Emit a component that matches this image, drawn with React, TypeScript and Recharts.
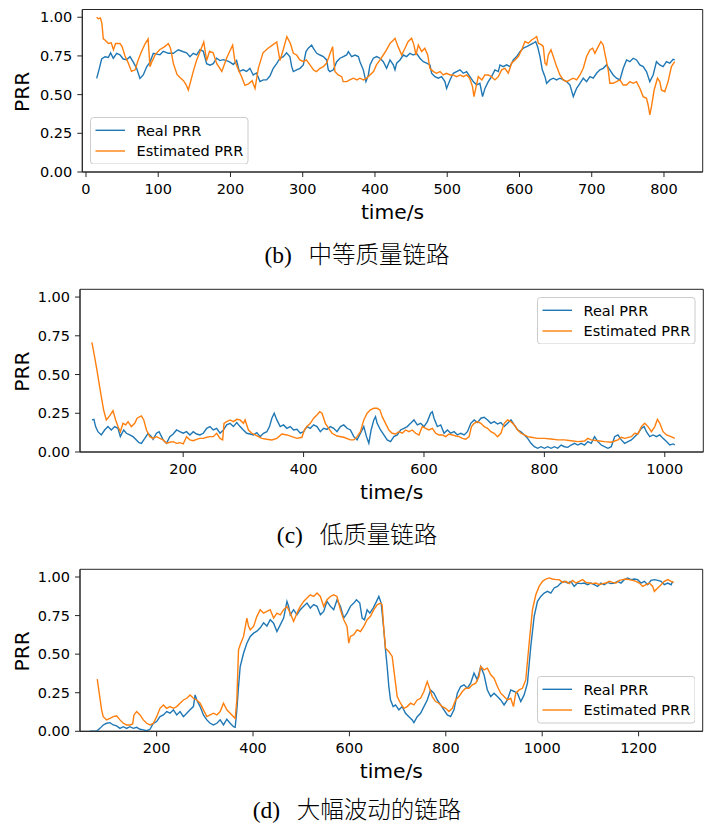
import React from 'react';
import { LineChart, Line, XAxis, YAxis, ReferenceArea, Legend } from 'recharts';

type P = [number, number];

const BLUE = '#1f77b4';
const ORANGE = '#ff7f0e';
const seriesNames = ['Real PRR', 'Estimated PRR'];
const yTicks = [0, 0.25, 0.5, 0.75, 1.0];
const bXTicks = [0, 100, 200, 300, 400, 500, 600, 700, 800];
const cXTicks = [200, 400, 600, 800, 1000];
const dXTicks = [200, 400, 600, 800, 1000, 1200];
const captionLabels = ['(b)', '(c)', '(d)'];
const captionTexts = ['中等质量链路', '低质量链路', '大幅波动的链路'];

// (b) medium quality link
const bReal: P[] = [[14.8,0.605],[18.5,0.67],[21.7,0.73],[26.3,0.745],[30.9,0.74],[34.1,0.77],[37.8,0.735],[42.5,0.767],[47,0.757],[51.6,0.73],[56.3,0.725],[60.9,0.745],[65.5,0.71],[70.1,0.67],[74.7,0.605],[79.3,0.627],[84,0.68],[88.6,0.71],[93.2,0.767],[102.4,0.757],[107,0.78],[114,0.767],[120.9,0.767],[127.8,0.79],[134.7,0.777],[139.3,0.77],[143.9,0.745],[148.5,0.767],[153.1,0.757],[157.8,0.79],[162.4,0.78],[167,0.7],[171.6,0.69],[176.2,0.7],[180.8,0.735],[185.4,0.72],[190,0.726],[194.7,0.72],[199.3,0.71],[203.9,0.695],[208.5,0.72],[212.2,0.65],[217.7,0.66],[222.3,0.65],[226.9,0.67],[231.5,0.627],[236.1,0.64],[240.8,0.584],[245.4,0.595],[250,0.595],[254.6,0.62],[259.2,0.67],[263.9,0.7],[268.5,0.735],[273.1,0.745],[277.7,0.77],[282.3,0.745],[284.7,0.681],[287,0.649],[291.6,0.66],[296.2,0.67],[300.8,0.692],[304.5,0.778],[307.7,0.8],[312.3,0.82],[314.6,0.8],[319.3,0.767],[323.9,0.756],[328.5,0.746],[333.1,0.724],[335.4,0.66],[337.7,0.649],[342.4,0.66],[347,0.713],[351.6,0.735],[356.2,0.746],[360.8,0.756],[363.1,0.778],[367.7,0.746],[372.4,0.756],[377,0.746],[379.2,0.713],[383.8,0.66],[387.5,0.584],[390.8,0.627],[393.1,0.692],[397.7,0.735],[402.3,0.746],[406.9,0.735],[411.5,0.713],[416.1,0.67],[420.8,0.724],[425.4,0.692],[427.7,0.66],[430,0.703],[434.6,0.724],[439.2,0.756],[443.8,0.746],[448.4,0.767],[453,0.756],[457.6,0.767],[462.2,0.735],[466.9,0.713],[471.5,0.703],[476.1,0.692],[478.4,0.638],[483,0.616],[487.6,0.606],[492.2,0.616],[496.8,0.584],[499.1,0.54],[503.8,0.595],[508.4,0.638],[513,0.649],[517.6,0.66],[522.2,0.638],[526.8,0.649],[531.4,0.616],[536,0.584],[540.6,0.563],[545.2,0.573],[548.9,0.487],[552.2,0.54],[556.8,0.584],[561.4,0.616],[566,0.66],[570.7,0.649],[573,0.692],[577.6,0.681],[582.2,0.692],[586.8,0.681],[591.5,0.724],[596.1,0.746],[600.7,0.778],[605.3,0.8],[609.9,0.81],[614.5,0.821],[619.1,0.832],[622.4,0.843],[625.1,0.81],[628.4,0.746],[631.6,0.66],[635.3,0.616],[637.6,0.573],[642.2,0.595],[646.8,0.606],[651.4,0.595],[656,0.606],[660.6,0.595],[665.2,0.584],[669.9,0.562],[674.5,0.487],[679.1,0.541],[683.7,0.573],[688.3,0.606],[692.9,0.584],[697.5,0.616],[702.1,0.606],[706.7,0.638],[711.3,0.66],[715.9,0.67],[720.5,0.692],[725.1,0.66],[729.7,0.627],[734.3,0.606],[739,0.595],[743.6,0.67],[748.2,0.724],[752.8,0.713],[757.4,0.735],[762,0.724],[766.6,0.692],[771.2,0.681],[775.8,0.649],[780.4,0.584],[785,0.627],[789.6,0.713],[794.2,0.692],[798.8,0.681],[803.4,0.713],[808,0.703],[812.7,0.728],[814.9,0.724]];
const bEst: P[] = [[14.8,1.0],[17,0.99],[20,0.995],[22,0.96],[24,0.86],[27,0.85],[31,0.83],[35,0.835],[38,0.79],[41,0.83],[47,0.83],[50,0.81],[54,0.75],[58,0.71],[63,0.65],[68,0.66],[72,0.72],[77,0.78],[82,0.83],[86,0.86],[88.6,0.68],[91,0.71],[96,0.76],[102,0.79],[109,0.81],[114,0.83],[117,0.8],[121,0.7],[126,0.63],[130,0.61],[135,0.59],[139,0.56],[141.6,0.53],[144,0.57],[148.5,0.65],[153,0.72],[158,0.78],[163,0.84],[167,0.72],[171,0.78],[176,0.77],[181,0.7],[188,0.65],[195,0.74],[199,0.78],[203,0.82],[206,0.72],[211,0.66],[215,0.62],[220,0.56],[225,0.57],[230,0.59],[234,0.54],[238.5,0.67],[245,0.77],[252,0.8],[258,0.82],[264,0.84],[268.5,0.72],[273,0.79],[278,0.875],[283,0.83],[287,0.767],[291.6,0.756],[296,0.724],[301,0.713],[305,0.724],[310,0.692],[315,0.659],[319,0.649],[324,0.67],[328.5,0.681],[333,0.703],[338,0.767],[341.4,0.81],[343,0.72],[344.6,0.649],[349,0.627],[354,0.616],[356,0.584],[361,0.584],[365,0.595],[370,0.606],[375,0.595],[379,0.606],[384,0.595],[388.5,0.606],[393,0.627],[398,0.649],[402,0.692],[407,0.724],[411.5,0.756],[416,0.789],[421,0.832],[425,0.849],[427.7,0.864],[432,0.81],[437,0.756],[441.5,0.8],[446,0.843],[450.7,0.864],[454,0.82],[456.7,0.756],[460,0.82],[464.6,0.778],[469,0.8],[473,0.756],[476,0.67],[481,0.649],[485,0.638],[490,0.649],[494.5,0.627],[499,0.638],[504,0.627],[508,0.627],[513,0.616],[518,0.627],[522,0.616],[527,0.627],[531,0.606],[535,0.552],[537,0.487],[540,0.552],[543,0.616],[548,0.595],[552,0.627],[557,0.627],[561,0.616],[566,0.595],[570.7,0.616],[575.3,0.66],[579.9,0.67],[584.5,0.638],[589.1,0.703],[593.8,0.724],[598.4,0.746],[603,0.789],[607.6,0.843],[612.2,0.832],[616.8,0.853],[620.5,0.864],[623.8,0.875],[626.1,0.832],[630.7,0.821],[633,0.81],[635.3,0.703],[637.6,0.692],[639.9,0.756],[643.6,0.79],[646.8,0.746],[651.4,0.681],[656,0.627],[660.6,0.595],[665.2,0.584],[669.9,0.595],[674.5,0.606],[679.1,0.595],[683.7,0.627],[688.3,0.67],[692.9,0.746],[697.5,0.789],[701.2,0.8],[704.4,0.767],[709,0.81],[712.7,0.843],[715.9,0.821],[718.2,0.767],[722.8,0.66],[725.1,0.573],[729.7,0.573],[734.3,0.584],[739,0.595],[743.6,0.562],[748.2,0.562],[752.8,0.584],[757.4,0.573],[762,0.584],[766.6,0.541],[771.2,0.487],[775.8,0.476],[778.1,0.433],[780.4,0.369],[782.7,0.422],[786.4,0.53],[791,0.606],[794.2,0.584],[796.5,0.53],[801.1,0.519],[805.7,0.584],[810.3,0.681],[814.9,0.713]];

// (c) low quality link
const cReal: P[] = [[48.4,0.207],[51.7,0.211],[54.5,0.164],[58.4,0.131],[64,0.11],[69.5,0.142],[75,0.164],[80.6,0.142],[86.2,0.164],[91.7,0.153],[95.6,0.099],[101.2,0.142],[105.6,0.121],[111.2,0.11],[116.7,0.099],[122.3,0.078],[126.7,0.06],[130.6,0.056],[136.2,0.088],[141.7,0.121],[147.3,0.099],[150,0.082],[155.6,0.121],[160,0.131],[166.7,0.078],[172.3,0.056],[177.8,0.099],[183.4,0.116],[189,0.142],[194.5,0.131],[200,0.121],[205.6,0.131],[211.2,0.11],[216.7,0.131],[222.3,0.116],[227.8,0.11],[233.4,0.121],[239,0.153],[244.5,0.164],[250,0.142],[255.6,0.153],[261.2,0.121],[266.7,0.142],[272.3,0.175],[277.8,0.185],[283.4,0.164],[289,0.19],[294.5,0.164],[300,0.142],[305.6,0.121],[311.2,0.116],[316.7,0.11],[322.3,0.125],[327.8,0.099],[333.4,0.121],[339,0.131],[343.4,0.164],[347.3,0.218],[351.2,0.25],[355.6,0.207],[361.2,0.164],[366.7,0.175],[372.3,0.153],[377.8,0.164],[383.4,0.142],[389,0.146],[394.5,0.121],[400,0.131],[405.6,0.164],[411.2,0.153],[416.7,0.175],[422.3,0.164],[427.8,0.131],[433.4,0.153],[439,0.146],[444.5,0.164],[450,0.153],[455.6,0.131],[461.2,0.164],[466.7,0.175],[472.3,0.153],[477.8,0.142],[483.4,0.099],[488.9,0.078],[494.5,0.121],[500,0.164],[504.5,0.099],[508.4,0.056],[512.2,0.142],[516.7,0.207],[519.5,0.228],[522.2,0.185],[527.8,0.142],[533.4,0.11],[538.9,0.078],[544.5,0.067],[550,0.099],[555.6,0.11],[561.1,0.142],[566.7,0.153],[572.2,0.164],[577.8,0.185],[583.4,0.207],[588.9,0.175],[594.5,0.185],[600,0.164],[605.6,0.196],[611.1,0.25],[613.9,0.26],[616.7,0.218],[622.2,0.164],[627.8,0.175],[633.4,0.121],[638.9,0.142],[644.5,0.121],[650,0.131],[655.6,0.11],[661.1,0.121],[666.7,0.11],[672.2,0.131],[677.8,0.185],[683.4,0.207],[688.9,0.19],[694.5,0.218],[700,0.224],[705.6,0.207],[711.1,0.185],[716.7,0.196],[722.2,0.181],[727.8,0.19],[733.4,0.164],[738.9,0.185],[744.5,0.207],[750,0.175],[755.6,0.142],[761.1,0.131],[766.7,0.11],[772.2,0.088],[777.8,0.056],[783.4,0.034],[788.9,0.024],[794.5,0.034],[800,0.024],[805.6,0.034],[811.1,0.024],[816.7,0.034],[822.2,0.024],[827.8,0.045],[833.4,0.034],[838.9,0.03],[844.5,0.045],[850,0.056],[855.6,0.045],[861.1,0.056],[866.7,0.045],[872.2,0.067],[877.8,0.056],[883.4,0.099],[888.9,0.067],[894.5,0.045],[900,0.034],[905.6,0.024],[911.1,0.034],[916.7,0.099],[922.2,0.11],[927.8,0.078],[933.4,0.056],[938.9,0.067],[944.5,0.078],[950,0.099],[955.6,0.121],[961.1,0.153],[965.6,0.164],[969.5,0.131],[975.1,0.099],[980.6,0.11],[986.1,0.099],[991.7,0.11],[997.2,0.088],[1002.8,0.067],[1008.4,0.045],[1013.9,0.052],[1016.7,0.045]];
const cEst: P[] = [[48.4,0.707],[52.8,0.616],[56.7,0.53],[61.2,0.422],[64,0.358],[67.8,0.272],[72.3,0.207],[77.8,0.233],[83.4,0.267],[87.8,0.207],[91.7,0.164],[95.6,0.131],[100,0.185],[104.5,0.175],[108.4,0.196],[113.9,0.164],[119.5,0.185],[123.4,0.218],[130.6,0.233],[134.5,0.207],[139,0.142],[144.5,0.099],[150,0.088],[155.6,0.099],[161.2,0.088],[166.7,0.078],[172.3,0.056],[177.8,0.063],[183.4,0.067],[189,0.056],[194.5,0.06],[200,0.052],[205.6,0.099],[211.2,0.078],[216.7,0.073],[222.3,0.082],[227.8,0.088],[233.4,0.088],[239,0.095],[244.5,0.099],[250,0.099],[255.6,0.121],[261.2,0.088],[265.6,0.078],[267.8,0.185],[272.3,0.196],[277.8,0.207],[283.4,0.196],[289,0.211],[294.5,0.207],[300,0.185],[302.8,0.207],[308.4,0.142],[314,0.121],[319.5,0.11],[325,0.099],[330.6,0.088],[339,0.082],[347.3,0.078],[355.6,0.088],[364,0.116],[372.3,0.11],[380.6,0.099],[389,0.088],[397.3,0.095],[401.2,0.142],[405.6,0.164],[411.2,0.185],[416.7,0.218],[422.3,0.239],[426.7,0.26],[430.6,0.25],[436.2,0.185],[441.7,0.153],[447.3,0.121],[455.6,0.103],[466.7,0.095],[477.8,0.078],[483.4,0.078],[488.9,0.099],[494.5,0.131],[500,0.207],[505.6,0.25],[511.1,0.272],[516.7,0.282],[522.2,0.282],[526.7,0.272],[530.6,0.228],[536.1,0.185],[541.7,0.142],[547.2,0.121],[552.8,0.116],[558.3,0.131],[563.9,0.121],[569.4,0.142],[575,0.131],[580.6,0.142],[586.1,0.121],[591.7,0.11],[597.2,0.164],[602.8,0.153],[608.3,0.142],[613.9,0.153],[619.4,0.121],[625,0.11],[630.6,0.11],[636.1,0.099],[641.7,0.116],[647.2,0.11],[652.8,0.103],[658.3,0.099],[663.9,0.088],[669.4,0.082],[675,0.099],[678.9,0.164],[683.4,0.185],[688.9,0.196],[694.5,0.185],[700,0.164],[705.6,0.153],[711.1,0.131],[716.7,0.121],[722.2,0.099],[727.8,0.121],[733.4,0.185],[738.9,0.207],[744.5,0.196],[750,0.175],[755.6,0.142],[761.1,0.121],[766.7,0.11],[772.2,0.099],[777.8,0.095],[788.9,0.088],[800,0.088],[811.1,0.084],[822.2,0.078],[833.4,0.078],[844.5,0.073],[855.6,0.067],[866.7,0.071],[872.2,0.088],[877.8,0.078],[888.9,0.073],[900,0.067],[911.1,0.063],[922.2,0.078],[927.8,0.095],[933.4,0.088],[944.5,0.099],[950,0.121],[955.6,0.116],[961.1,0.164],[966.7,0.185],[972.2,0.164],[977.8,0.131],[983.4,0.164],[987.8,0.211],[991.7,0.185],[997.2,0.131],[1002.8,0.11],[1008.4,0.103],[1016.7,0.088]];

// (d) strongly fluctuating link
const dReal: P[] = [[61.5,0],[75.4,0],[82.3,0.019],[89.2,0.041],[96.2,0.052],[103.1,0.056],[110,0.041],[117,0.035],[123.9,0.019],[130.8,0.03],[137.7,0.019],[144.7,0.03],[151.6,0.019],[158.5,0.026],[165.5,0.013],[172.4,0.009],[179.3,0.004],[186.3,0.013],[193.2,0.052],[200.1,0.063],[207,0.095],[214,0.106],[220.9,0.128],[227.8,0.117],[234.8,0.139],[241.7,0.106],[248.6,0.128],[255.6,0.095],[262.5,0.117],[269.4,0.139],[276.3,0.16],[279.8,0.236],[283.3,0.203],[290.2,0.16],[297.1,0.106],[304.1,0.074],[311,0.052],[317.9,0.041],[324.9,0.052],[331.8,0.074],[338.7,0.041],[345.6,0.078],[352.6,0.052],[359.5,0.03],[363,0.026],[366.4,0.139],[369.9,0.29],[373.4,0.42],[380.3,0.506],[387.2,0.571],[394.2,0.615],[401.1,0.636],[408,0.649],[415,0.671],[421.9,0.703],[428.8,0.682],[435.7,0.723],[442.7,0.701],[449.6,0.647],[456.5,0.69],[463.5,0.734],[470.4,0.842],[473.8,0.81],[477.3,0.755],[484.2,0.788],[491.2,0.755],[498.1,0.788],[505,0.81],[512,0.831],[518.9,0.799],[525.8,0.821],[532.8,0.81],[539.7,0.755],[546.6,0.777],[553.5,0.842],[560.5,0.81],[567.4,0.788],[574.3,0.853],[581.3,0.81],[588.2,0.734],[595.1,0.766],[602.1,0.81],[609,0.831],[614.6,0.853],[621.5,0.831],[626.4,0.734],[631.2,0.723],[636.8,0.788],[642.3,0.766],[649.2,0.799],[656.2,0.842],[661,0.874],[665.9,0.831],[671.4,0.658],[674.9,0.528],[678.3,0.42],[681.8,0.29],[685.3,0.203],[690.8,0.16],[695.7,0.171],[702.6,0.139],[709.5,0.16],[716.4,0.117],[723.4,0.095],[730.3,0.074],[733.8,0.056],[740.7,0.095],[747.6,0.117],[754.6,0.16],[761.5,0.203],[768.4,0.268],[775.4,0.247],[782.3,0.203],[789.2,0.171],[796.1,0.139],[803.1,0.106],[810,0.095],[816.9,0.139],[823.9,0.247],[830.8,0.29],[837.7,0.301],[844.6,0.279],[851.6,0.312],[858.5,0.377],[865.4,0.333],[872.4,0.42],[879.3,0.366],[886.2,0.268],[893.2,0.225],[900.1,0.247],[907,0.225],[913.9,0.203],[920.9,0.171],[927.8,0.203],[934.7,0.268],[941.7,0.258],[948.6,0.247],[955.5,0.193],[962.5,0.236],[969.4,0.312],[976.3,0.55],[983.3,0.745],[990.2,0.842],[997.1,0.874],[1004.1,0.896],[1011,0.907],[1017.9,0.896],[1024.8,0.929],[1031.8,0.939],[1038.7,0.961],[1045.6,0.972],[1052.6,0.961],[1059.5,0.972],[1066.4,0.939],[1073.3,0.961],[1080.3,0.957],[1087.2,0.961],[1094.1,0.95],[1101.1,0.961],[1108,0.95],[1114.9,0.939],[1121.9,0.961],[1128.8,0.95],[1135.7,0.965],[1142.6,0.957],[1149.6,0.961],[1156.5,0.972],[1163.4,0.961],[1170.4,0.983],[1177.3,0.994],[1184.2,0.983],[1191.2,0.987],[1198.1,0.983],[1205,0.961],[1212,0.972],[1218.9,0.95],[1225.8,0.978],[1232.7,0.983],[1239.7,0.978],[1246.6,0.972],[1253.5,0.95],[1260.5,0.961],[1267.4,0.95],[1270.8,0.972]];
const dEst: P[] = [[76.8,0.338],[80.9,0.247],[85.8,0.139],[89.2,0.095],[96.2,0.074],[103.1,0.084],[110,0.095],[117,0.1],[123.9,0.074],[130.8,0.052],[137.7,0.041],[144.7,0.041],[150.2,0.048],[153,0.106],[158.5,0.128],[165.5,0.106],[172.4,0.074],[179.3,0.052],[186.3,0.041],[193.2,0.052],[200.1,0.095],[207,0.149],[214,0.171],[220.9,0.149],[227.8,0.16],[234.8,0.149],[241.7,0.16],[248.6,0.182],[255.6,0.203],[262.5,0.214],[269.4,0.236],[276.3,0.214],[283.3,0.203],[290.2,0.182],[297.1,0.139],[304.1,0.095],[311,0.106],[317.9,0.117],[324.9,0.106],[331.8,0.128],[338.7,0.182],[345.6,0.139],[352.6,0.117],[359.5,0.095],[363,0.084],[366.4,0.203],[369.9,0.528],[373.4,0.561],[380.3,0.615],[387.2,0.734],[390.7,0.68],[394.2,0.658],[401.1,0.68],[408,0.745],[415,0.788],[421.9,0.766],[428.8,0.777],[435.7,0.788],[442.7,0.734],[449.6,0.766],[456.5,0.755],[463.5,0.788],[470.4,0.81],[477.3,0.766],[484.2,0.712],[491.2,0.766],[498.1,0.81],[505,0.842],[512,0.864],[518.9,0.885],[525.8,0.874],[532.8,0.896],[539.7,0.874],[546.6,0.81],[553.5,0.853],[560.5,0.874],[567.4,0.885],[574.3,0.874],[581.3,0.788],[588.2,0.723],[595.1,0.68],[598.6,0.571],[602.1,0.615],[609,0.626],[615.9,0.658],[622.9,0.647],[629.8,0.68],[636.8,0.723],[643.7,0.745],[650.6,0.788],[657.5,0.82],[664.5,0.831],[667.9,0.82],[671.4,0.658],[674.9,0.539],[681.8,0.517],[688.7,0.485],[692.2,0.398],[699.1,0.225],[706,0.182],[713,0.149],[719.9,0.16],[726.8,0.182],[733.8,0.171],[740.7,0.203],[747.6,0.214],[754.6,0.258],[758,0.29],[761.5,0.322],[765,0.29],[771.9,0.225],[778.8,0.193],[785.7,0.182],[792.7,0.16],[799.6,0.149],[806.5,0.128],[813.5,0.149],[820.4,0.203],[827.3,0.225],[834.3,0.258],[841.2,0.279],[848.1,0.279],[855,0.301],[862,0.312],[868.9,0.355],[872.4,0.42],[879.3,0.398],[886.2,0.409],[893.2,0.366],[900.1,0.344],[907,0.29],[913.9,0.247],[920.9,0.225],[927.8,0.203],[934.7,0.214],[940.3,0.16],[945.1,0.247],[952.1,0.268],[959,0.279],[965.9,0.333],[972.9,0.571],[979.8,0.788],[986.7,0.885],[993.6,0.939],[1000.6,0.972],[1007.5,0.987],[1014.4,0.994],[1021.4,0.987],[1028.3,0.983],[1035.2,0.983],[1042.2,0.965],[1049.1,0.972],[1056,0.957],[1063,0.978],[1069.9,0.961],[1076.8,0.972],[1083.7,0.983],[1090.7,0.965],[1097.6,0.961],[1104.5,0.957],[1111.5,0.961],[1118.4,0.95],[1125.3,0.957],[1132.3,0.961],[1139.2,0.972],[1146.1,0.965],[1153.1,0.961],[1160,0.978],[1166.9,0.983],[1173.8,0.987],[1180.8,0.983],[1187.7,0.978],[1194.6,0.972],[1201.6,0.961],[1208.5,0.939],[1215.4,0.95],[1222.4,0.961],[1229.3,0.939],[1232.7,0.907],[1239.7,0.929],[1246.6,0.95],[1253.5,0.972],[1260.5,0.983],[1267.4,0.972],[1272.9,0.965]];

type Row = { t: number; real?: number; est?: number };
function mergeSeries(real: P[], est: P[]): Row[] {
  const rows: Row[] = [
    ...real.map(([t, v]) => ({ t, real: v })),
    ...est.map(([t, v]) => ({ t, est: v })),
  ];
  rows.sort((a, b) => a.t - b.t);
  return rows;
}

const FONT = "'DejaVu Sans', sans-serif";
const AXIS = '#262626';

type PanelProps = {
  top: number;
  plotTop: number;
  plotBottom: number;
  plotLeft: number;
  plotRight: number;
  xDomain: [number, number];
  xTicks: number[];
  real: P[];
  est: P[];
  legendX: number;
  legendY: number;
  captionDy: number;
};

function LegendBox() {
  return (
    <svg width={158.5} height={47.5} style={{ display: 'block' }}>
      <rect x={0.5} y={0.5} width={157.5} height={46.5} rx={3} ry={3} fill="rgba(255,255,255,0.8)" stroke="#cccccc" strokeWidth={1} />
      {seriesNames.map((name, i) => {
        const y = i === 0 ? 13.3 : 34;
        return (
          <g key={name}>
            <line x1={5.5} x2={35} y1={y} y2={y} stroke={i === 0 ? BLUE : ORANGE} strokeWidth={1.4} />
            <text x={46.5} y={y + 5.2} fontFamily={FONT} fontSize={14.5} fill="#000">{name}</text>
          </g>
        );
      })}
    </svg>
  );
}

function Panel(p: PanelProps) {
  const W = 709;
  const axisH = 30;
  const mTop = p.plotTop - p.top;
  const H = p.plotBottom - p.top + axisH;
  const data = mergeSeries(p.real, p.est);
  return (
    <div style={{ position: 'absolute', left: 0, top: p.top, width: W, height: H }}>
      <LineChart width={W} height={H} data={data} margin={{ top: mTop, right: W - p.plotRight, bottom: 0, left: 0 }}>
        <XAxis
          type="number"
          dataKey="t"
          domain={p.xDomain}
          ticks={p.xTicks}
          interval={0}
          allowDataOverflow
          height={axisH}
          tickSize={5}
          tickMargin={6.5}
          stroke={AXIS}
          tick={{ fontSize: 14.5, fill: '#000', fontFamily: FONT }}
        />
        <YAxis
          type="number"
          domain={[0, 1.05]}
          ticks={yTicks}
          interval={0}
          allowDataOverflow
          width={p.plotLeft}
          tickSize={5}
          tickMargin={5}
          stroke={AXIS}
          tickFormatter={(v: number) => v.toFixed(2)}
          tick={{ fontSize: 14.5, fill: '#000', fontFamily: FONT }}
        />
        <ReferenceArea x1={p.xDomain[0]} x2={p.xDomain[1]} y1={0} y2={1.05} fill="none" fillOpacity={0} stroke={AXIS} strokeWidth={1} ifOverflow="visible" />
        <Line type="linear" dataKey="real" name={seriesNames[0]} stroke={BLUE} strokeWidth={1.4} dot={false} activeDot={false} connectNulls isAnimationActive={false} />
        <Line type="linear" dataKey="est" name={seriesNames[1]} stroke={ORANGE} strokeWidth={1.4} dot={false} activeDot={false} connectNulls isAnimationActive={false} />
        <Legend
          layout="vertical"
          align="center"
          verticalAlign="middle"
          content={() => <LegendBox />}
          wrapperStyle={{ position: 'absolute', left: p.legendX, top: p.legendY - p.top, width: 158.5, height: 47.5, margin: 0, padding: 0 }}
        />
      </LineChart>
    </div>
  );
}

const panels: PanelProps[] = [
  { top: 0, plotTop: 9.5, plotBottom: 172, plotLeft: 82.3, plotRight: 702.7, xDomain: [-5.1, 853.6], xTicks: bXTicks, real: bReal, est: bEst, legendX: 90, legendY: 116.7, captionDy: 90.5 },
  { top: 280, plotTop: 289.3, plotBottom: 452, plotLeft: 80, plotRight: 703.3, xDomain: [28.6, 1064], xTicks: cXTicks, real: cReal, est: cEst, legendX: 537.3, legendY: 296.7, captionDy: 90.5 },
  { top: 560, plotTop: 569.3, plotBottom: 731.3, plotLeft: 80, plotRight: 702.7, xDomain: [41, 1333], xTicks: dXTicks, real: dReal, est: dEst, legendX: 536.7, legendY: 676, captionDy: 86.5 },
];

export default function App() {
  return (
    <div style={{ position: 'absolute', left: 0, top: 0, width: 709, height: 826, background: '#fff', overflow: 'hidden' }}>
      {panels.map((p, i) => <Panel key={i} {...p} />)}
      <svg width={709} height={826} style={{ position: 'absolute', left: 0, top: 0, pointerEvents: 'none' }}>
        {panels.map((p, i) => {
          const cy = (p.plotTop + p.plotBottom) / 2;
          const cx = (p.plotLeft + p.plotRight) / 2;
          return (
            <g key={i}>
              <text transform={`translate(21.7, ${cy + 1}) rotate(-90)`} textAnchor="middle" dy="0.36em" fontFamily={FONT} fontSize={20.3} fill="#000">PRR</text>
              <text x={cx} y={p.plotBottom + 47} textAnchor="middle" fontFamily={FONT} fontSize={20.3} fill="#000">time/s</text>
              <text x={357} y={p.plotBottom + p.captionDy} textAnchor="middle" fontSize={23.5} fill="#000">
                <tspan fontFamily="'Liberation Serif', 'Times New Roman', serif">{captionLabels[i]}</tspan>
                <tspan dx={16.7} fontFamily="'Noto Sans CJK SC', sans-serif" fontWeight={300}>{captionTexts[i]}</tspan>
              </text>
            </g>
          );
        })}
      </svg>
    </div>
  );
}
